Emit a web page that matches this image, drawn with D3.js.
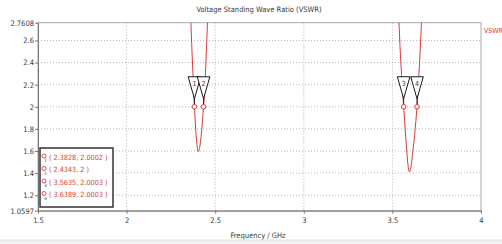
<!DOCTYPE html>
<html>
<head>
<meta charset="utf-8">
<script src="https://cdn.jsdelivr.net/npm/d3@7"></script>
<style>
  body { margin: 0; background: #fff; }
  svg text { font-family: "DejaVu Sans Condensed", "DejaVu Sans", sans-serif; }
</style>
</head>
<body>
<svg id="chart" width="502" height="244"></svg>
<script>
var CURVE_COLOR = '#d93b3b';
var GRID_COLOR = '#a4a4a4';

// x ticks and y ticks (the ends of the y axis are the data limits)
var xTicks = [1.5, 2, 2.5, 3, 3.5, 4];
var yTicks = [1.0597, 1.2, 1.4, 1.6, 1.8, 2, 2.2, 2.4, 2.6, 2.7608];
var yTickLabels = ['1.0597', '1.2', '1.4', '1.6', '1.8', '2', '2.2', '2.4', '2.6', '2.7608'];

// VSWR, around the two resonances (the rest is above the plot)
var dip1 = [[2.356, 3.05], [2.362, 2.80], [2.369, 2.50], [2.376, 2.24], [2.3828, 2.0002],
            [2.390, 1.80], [2.397, 1.66], [2.402, 1.60], [2.406, 1.595], [2.411, 1.62],
            [2.418, 1.70], [2.426, 1.83], [2.4343, 2.0], [2.442, 2.20], [2.450, 2.50],
            [2.458, 2.82], [2.464, 3.05]];
var dip2 = [[3.528, 3.05], [3.536, 2.80], [3.545, 2.48], [3.554, 2.23], [3.5635, 2.0003],
            [3.573, 1.78], [3.582, 1.58], [3.590, 1.45], [3.596, 1.41], [3.603, 1.44],
            [3.612, 1.55], [3.625, 1.74], [3.6389, 2.0003], [3.648, 2.24], [3.657, 2.52],
            [3.666, 2.82], [3.674, 3.05]];

var markerIds = ['1', '2', '3', '4'];
var markerX = [2.3828, 2.4343, 3.5635, 3.6389];
var markerY = [2.0002, 2, 2.0003, 2.0003];
var markerLabels = ['( 2.3828, 2.0002 )', '( 2.4343, 2 )', '( 3.5635, 2.0003 )', '( 3.6389, 2.0003 )'];

var svg = d3.select('#chart');
var x = d3.scaleLinear().domain([1.5, 4]).range([38, 481]);
var y = d3.scaleLinear().domain([1.0597, 2.7608]).range([210.7, 22.7]);

// bottom strip
svg.append('rect').attr('x', 0).attr('y', 240).attr('width', 502).attr('height', 4).attr('fill', '#f0f0f0');
svg.append('line').attr('x1', 0).attr('x2', 502).attr('y1', 240).attr('y2', 240).attr('stroke', '#e2e2e2');

svg.append('defs').append('clipPath').attr('id', 'plot-clip').
    append('rect').attr('x', 38).attr('y', 22.7).attr('width', 443).attr('height', 188);

// grid
var grid = svg.append('g').attr('stroke', GRID_COLOR).attr('stroke-dasharray', '1,2').attr('stroke-width', 0.8);
grid.selectAll('line.v').data(xTicks.slice(1, -1)).enter().append('line').
    attr('x1', function (d) { return x(d); }).attr('x2', function (d) { return x(d); }).
    attr('y1', y.range()[1]).attr('y2', y.range()[0]);
grid.selectAll('line.h').data(yTicks.slice(1, -1)).enter().append('line').
    attr('y1', function (d) { return y(d); }).attr('y2', function (d) { return y(d); }).
    attr('x1', x.range()[0]).attr('x2', x.range()[1]);

// frame
svg.append('rect').attr('x', 38).attr('y', 22.7).attr('width', 443).attr('height', 188).
    attr('fill', 'none').attr('stroke', '#a8a8a8');

// axes
var xAxis = svg.append('g').attr('transform', 'translate(0,210.7)').
    call(d3.axisBottom(x).tickValues(xTicks).tickFormat(d3.format('')).tickSize(3).tickSizeOuter(0));
var yAxis = svg.append('g').attr('transform', 'translate(38,0)').
    call(d3.axisLeft(y).tickValues(yTicks).tickFormat(function (d, i) { return yTickLabels[i]; }).tickSize(3).tickSizeOuter(0));
[xAxis, yAxis].forEach(function (a) {
    a.select('.domain').attr('stroke', '#777');
    a.selectAll('.tick line').attr('stroke', '#777');
    a.selectAll('.tick text').attr('fill', '#3a3a3a').style('font-size', '7.5px');
});
xAxis.selectAll('.tick text').attr('dy', '0.9em').attr('y', 6);
yAxis.selectAll('.tick text').attr('x', -4);

// curve
var line = d3.line().x(function (d) { return x(d[0]); }).y(function (d) { return y(d[1]); }).curve(d3.curveCatmullRom);
var plot = svg.append('g').attr('clip-path', 'url(#plot-clip)');
[dip1, dip2].forEach(function (seg) {
    plot.append('path').datum(seg).attr('d', line).attr('fill', 'none').
        attr('stroke', CURVE_COLOR).attr('stroke-width', 1);
});

// markers
var markers = svg.append('g');
markerX.forEach(function (mx, i) {
    var px = x(mx), py = y(markerY[i]);
    var g = markers.append('g');
    g.append('line').attr('x1', px).attr('x2', px).attr('y1', py - 8).attr('y2', py).
        attr('stroke', '#000').attr('stroke-width', 0.8);
    g.append('path').attr('d', 'M' + (px - 6.3) + ',' + (py - 30) + 'L' + (px + 6.3) + ',' + (py - 30) + 'L' + px + ',' + (py - 8) + 'Z').
        attr('fill', '#fff').attr('stroke', '#000').attr('stroke-width', 0.9);
    g.append('text').attr('x', px).attr('y', py - 21).attr('text-anchor', 'middle').
        style('font-size', '7px').attr('fill', '#333').text(markerIds[i]);
    g.append('circle').attr('cx', px).attr('cy', py).attr('r', 2.3).
        attr('fill', '#fff').attr('stroke', CURVE_COLOR).attr('stroke-width', 1);
});

// marker legend
var legend = svg.append('g');
legend.append('rect').attr('x', 40).attr('y', 148).attr('width', 73).attr('height', 59).
    attr('fill', '#fff').attr('stroke', '#333').attr('stroke-width', 1.5);
markerLabels.forEach(function (label, i) {
    var ry = 157 + i * 12.5;
    legend.append('circle').attr('cx', 44).attr('cy', ry - 1).attr('r', 2).
        attr('fill', '#fff').attr('stroke', CURVE_COLOR).attr('stroke-width', 0.9);
    legend.append('text').attr('x', 45.5).attr('y', ry + 5).attr('text-anchor', 'middle').
        style('font-size', '4.5px').attr('fill', '#333').text(markerIds[i]);
    legend.append('text').attr('x', 49).attr('y', ry + 2.5).style('font-size', '7.2px').
        attr('fill', CURVE_COLOR).text(label);
});

// titles
svg.append('text').attr('x', 259).attr('y', 12).attr('text-anchor', 'middle').
    style('font-size', '7.5px').attr('fill', '#3a3a3a').text('Voltage Standing Wave Ratio (VSWR)');
svg.append('text').attr('x', 258).attr('y', 238).attr('text-anchor', 'middle').
    style('font-size', '7.5px').attr('fill', '#3a3a3a').text('Frequency / GHz');
svg.append('text').attr('x', 484).attr('y', 33).
    style('font-size', '7px').attr('fill', CURVE_COLOR).text('VSWR');
</script>
</body>
</html>
